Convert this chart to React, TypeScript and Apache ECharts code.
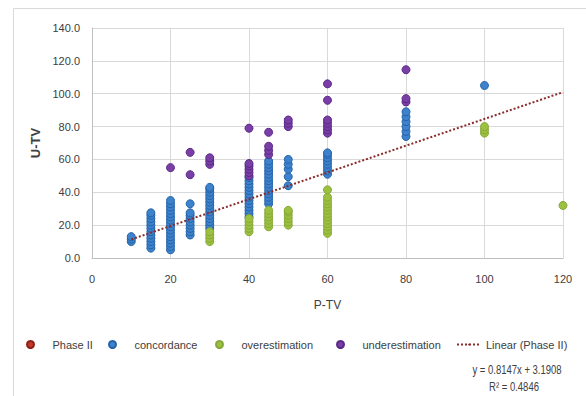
import React, { useEffect, useRef } from "react";
import * as echarts from "echarts";

const FONT = "'Liberation Sans', Arial, sans-serif";

const xTicks = [0, 20, 40, 60, 80, 100, 120];
const yTicks = [0, 20, 40, 60, 80, 100, 120, 140];

const concordance: number[][] = [
  [10, 10], [10, 11.5], [10, 13],
  [15, 6], [15, 8], [15, 10], [15, 12], [15, 14], [15, 16], [15, 18], [15, 20], [15, 22], [15, 24], [15, 26], [15, 27.5],
  [20, 5], [20, 7], [20, 9], [20, 11], [20, 13], [20, 15], [20, 17], [20, 19], [20, 21], [20, 23], [20, 25], [20, 27], [20, 29], [20, 31], [20, 33], [20, 35],
  [25, 14], [25, 16], [25, 18], [25, 20], [25, 22], [25, 24], [25, 26], [25, 27.5], [25, 33],
  [30, 18], [30, 20], [30, 22], [30, 24], [30, 26], [30, 28], [30, 30], [30, 32], [30, 34], [30, 36], [30, 38], [30, 40], [30, 42], [30, 43],
  [40, 25], [40, 27], [40, 29], [40, 31], [40, 33], [40, 35], [40, 37], [40, 39], [40, 41], [40, 43], [40, 45], [40, 47], [40, 49],
  [45, 33], [45, 35], [45, 37], [45, 39], [45, 41], [45, 43], [45, 45], [45, 47], [45, 49], [45, 51], [45, 53], [45, 55], [45, 57], [45, 59],
  [50, 44], [50, 49.5], [50, 54], [50, 57], [50, 60],
  [60, 51], [60, 53], [60, 55], [60, 57], [60, 59], [60, 61], [60, 63], [60, 64],
  [80, 74], [80, 77], [80, 80], [80, 83], [80, 86], [80, 89],
  [100, 105],
];

const overestimation: number[][] = [
  [30, 10], [30, 12], [30, 14], [30, 16],
  [40, 16], [40, 18], [40, 20], [40, 22], [40, 24],
  [45, 19], [45, 21], [45, 23], [45, 25], [45, 27], [45, 29],
  [50, 20], [50, 22], [50, 24], [50, 26], [50, 28], [50, 29],
  [60, 15], [60, 17], [60, 19], [60, 21], [60, 23], [60, 25], [60, 27], [60, 29], [60, 31], [60, 33], [60, 35], [60, 37], [60, 41.5],
  [100, 76], [100, 78], [100, 80],
  [120, 32],
];

const underestimation: number[][] = [
  [20, 55],
  [25, 50.7], [25, 64.3],
  [30, 57], [30, 59], [30, 61],
  [40, 50], [40, 52], [40, 54], [40, 56], [40, 57.5], [40, 79],
  [45, 63], [45, 65.5], [45, 68], [45, 76.5],
  [50, 80], [50, 82], [50, 84],
  [60, 76], [60, 78], [60, 80], [60, 82], [60, 84], [60, 96], [60, 106],
  [80, 95], [80, 97], [80, 114.6],
];

const phaseII: number[][] = [...concordance, ...overestimation, ...underestimation];

const trendSlope = 0.8147;
const trendIntercept = 3.1908;
const trendR2 = 0.4846;
const trendRange = [10, 120];

export default function App() {
  const ref = useRef<HTMLDivElement>(null);
  useEffect(() => {
    if (!ref.current) return;
    const chart = echarts.init(ref.current, undefined, { renderer: "svg" });
    const trendData = trendRange.map((x) => [x, trendSlope * x + trendIntercept]);
    const mk = (fill: string, border: string) => ({ color: fill, borderColor: border, borderWidth: 1, opacity: 1 });
    const legendText = { fontFamily: FONT, fontSize: 11, color: "#404040" };
    const legendBase = { top: 339, itemHeight: 7, itemWidth: 34, itemGap: 0, textStyle: legendText, selectedMode: false, padding: 0 };
    chart.setOption({
      animation: false,
      backgroundColor: "#ffffff",
      textStyle: { fontFamily: FONT },
      grid: { left: 92, right: 23, top: 28, bottom: 138 },
      xAxis: {
        type: "value", min: xTicks[0], max: xTicks[xTicks.length - 1], interval: 20,
        name: "P-TV", nameLocation: "middle", nameGap: 41,
        nameTextStyle: { fontFamily: FONT, fontSize: 12, color: "#404040" },
        axisLine: { show: true, lineStyle: { color: "#bfbfbf", width: 1 } },
        axisTick: { show: false },
        axisLabel: { margin: 15, fontFamily: FONT, fontSize: 11, color: "#404040" },
        splitLine: { show: true, lineStyle: { color: "#d9d9d9", width: 1 } },
      },
      yAxis: {
        type: "value", min: yTicks[0], max: yTicks[yTicks.length - 1], interval: 20,
        name: "U-TV", nameLocation: "middle", nameGap: 36,
        nameTextStyle: { fontFamily: FONT, fontSize: 13, fontWeight: "bold", color: "#404040" },
        axisLine: { show: true, lineStyle: { color: "#bfbfbf", width: 1 } },
        axisTick: { show: false },
        axisLabel: { margin: 12, fontFamily: FONT, fontSize: 11, color: "#404040", formatter: (v: number) => v.toFixed(1) },
        splitLine: { show: true, lineStyle: { color: "#d9d9d9", width: 1 } },
      },
      legend: [
        { ...legendBase, left: 26, data: ["Phase II"] },
        { ...legendBase, left: 108, data: ["concordance"] },
        { ...legendBase, left: 215, data: ["overestimation"] },
        { ...legendBase, left: 336, data: ["underestimation"] },
        { ...legendBase, left: 456, itemWidth: 24, itemHeight: 2, data: ["Linear (Phase II)"] },
      ],
      graphic: [
        { type: "rect", silent: true, z: -10, shape: { x: 13.5, y: 8.5, width: 600, height: 400 }, style: { fill: "none", stroke: "#d9d9d9", lineWidth: 1 } },
        { type: "text", x: 517, y: 369, scaleX: 0.76, style: { text: `y = ${trendSlope}x + ${trendIntercept}`, textAlign: "center", textVerticalAlign: "middle", fontFamily: FONT, fontSize: 12.5, fill: "#404040" } },
        { type: "text", x: 514, y: 386, scaleX: 0.76, style: { text: `R² = ${trendR2}`, textAlign: "center", textVerticalAlign: "middle", fontFamily: FONT, fontSize: 12.5, fill: "#404040" } },
      ],
      series: [
        { name: "Phase II", type: "scatter", data: phaseII, symbolSize: 5, z: 1, itemStyle: mk("#c0392b", "#8e1f17") },
        { name: "concordance", type: "scatter", data: concordance, symbolSize: 8, z: 2, itemStyle: mk("#3d82cc", "#2563a8") },
        { name: "overestimation", type: "scatter", data: overestimation, symbolSize: 8, z: 3, itemStyle: mk("#9cc140", "#86a838") },
        { name: "underestimation", type: "scatter", data: underestimation, symbolSize: 8, z: 4, itemStyle: mk("#7a3fa6", "#5a2886") },
        {
          name: "Linear (Phase II)", type: "line", data: trendData, symbol: "none", z: 5,
          lineStyle: { color: "#8b2a2a", width: 2, type: [2, 2] }, itemStyle: { color: "#8b2a2a" },
        },
      ],
    });
    return () => chart.dispose();
  }, []);
  return <div ref={ref} style={{ position: "fixed", left: 0, top: 0, width: 586, height: 396 }} />;
}
